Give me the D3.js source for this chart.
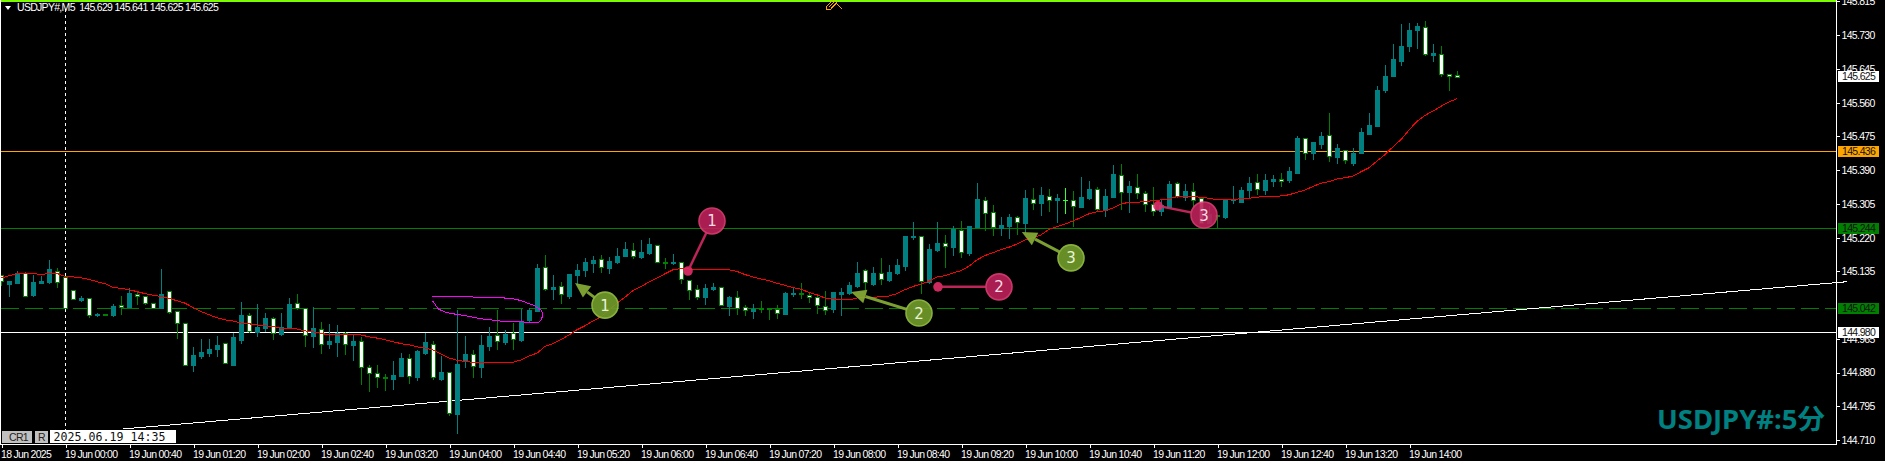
<!DOCTYPE html>
<html>
<head>
<meta charset="utf-8">
<script src="https://cdn.jsdelivr.net/npm/d3@7/dist/d3.min.js"></script>
<style>
html,body{margin:0;padding:0;background:#000;overflow:hidden}
svg{display:block}
.ui{font-family:"Liberation Sans",sans-serif;font-size:10.5px;letter-spacing:-.7px;fill:#fff;stroke:none}
</style>
</head>
<body>
<svg id="c" width="1885" height="461"></svg>
<script>
const opens = [145.125,145.104,145.106,145.131,145.076,145.106,145.109,145.135,145.122,145.088,145.064,145.067,145.024,145.027,145.025,145.050,145.046,145.079,145.073,145.055,145.042,145.085,145.035,145.005,144.898,144.922,144.930,144.940,144.954,144.900,144.963,145.025,144.983,144.993,145.017,144.978,144.995,145.055,145.042,144.973,
144.989,144.953,144.958,144.980,144.950,144.959,144.894,144.879,144.869,144.864,144.872,144.916,144.869,144.930,144.953,144.864,144.881,144.776,144.910,144.926,144.895,144.947,144.974,144.958,144.979,144.963,145.013,145.036,145.146,145.091,145.098,145.073,145.126,145.139,145.157,145.166,145.144,145.159,145.174,145.189,
145.172,145.182,145.201,145.158,145.157,145.158,145.113,145.090,145.071,145.091,145.095,145.048,145.070,145.045,145.036,145.042,145.042,145.040,145.028,145.079,145.080,145.075,145.070,145.047,145.041,145.079,145.081,145.099,145.138,145.104,145.130,145.114,145.131,145.149,145.222,145.224,145.109,145.189,145.206,145.197,
145.239,145.181,145.247,145.316,145.284,145.244,145.249,145.271,145.257,145.318,145.307,145.326,145.315,145.316,145.315,145.297,145.320,145.342,145.290,145.322,145.379,145.335,145.347,145.332,145.306,145.287,145.297,145.357,145.323,145.337,145.319,145.256,145.277,145.272,145.315,145.311,145.340,145.359,145.340,145.363,
145.368,145.364,145.384,145.471,145.432,145.457,145.479,145.424,145.441,145.409,145.432,145.480,145.502,145.593,145.626,145.666,145.702,145.742,145.751,145.679,145.683,145.633,145.629];
const highs = [145.126,145.111,145.136,145.131,145.125,145.124,145.164,145.144,145.122,145.088,145.073,145.067,145.031,145.027,145.053,145.073,145.093,145.084,145.074,145.055,145.142,145.085,145.035,145.005,144.945,144.965,144.965,144.973,144.954,144.981,145.058,145.030,145.053,145.031,145.019,145.031,145.068,145.079,145.042,145.045,
145.008,145.003,145.000,144.983,144.975,144.970,144.900,144.900,144.877,144.910,144.929,144.927,144.937,144.980,144.960,144.922,144.881,145.038,144.973,144.937,144.975,144.995,145.038,144.988,145.005,145.041,145.043,145.154,145.177,145.126,145.109,145.129,145.154,145.169,145.174,145.177,145.172,145.194,145.210,145.207,
145.215,145.220,145.201,145.169,145.179,145.158,145.113,145.101,145.104,145.106,145.095,145.073,145.086,145.051,145.053,145.061,145.042,145.051,145.084,145.094,145.106,145.084,145.076,145.086,145.084,145.094,145.109,145.159,145.142,145.147,145.169,145.152,145.167,145.225,145.260,145.224,145.205,145.260,145.227,145.250,
145.262,145.249,145.358,145.322,145.302,145.271,145.280,145.274,145.340,145.345,145.348,145.343,145.330,145.345,145.337,145.373,145.363,145.348,145.343,145.403,145.406,145.363,145.380,145.337,145.348,145.315,145.363,145.360,145.355,145.358,145.323,145.300,145.277,145.315,145.350,145.348,145.373,145.380,145.380,145.378,
145.382,145.397,145.475,145.471,145.460,145.487,145.535,145.457,145.441,145.445,145.497,145.533,145.603,145.654,145.709,145.757,145.760,145.760,145.767,145.707,145.702,145.633,145.641];
const lows = [145.100,145.073,145.105,145.074,145.073,145.105,145.107,145.096,145.042,145.065,145.061,145.019,145.023,145.026,145.023,145.028,145.046,145.053,145.052,145.042,145.042,145.029,144.968,144.898,144.884,144.917,144.922,144.922,144.905,144.898,144.955,144.983,144.973,144.985,144.965,144.974,144.993,145.041,144.947,144.945,
144.930,144.942,144.922,144.927,144.912,144.852,144.834,144.844,144.837,144.839,144.872,144.854,144.862,144.927,144.864,144.862,144.774,144.728,144.895,144.869,144.869,144.937,144.940,144.953,144.940,144.960,145.008,145.036,145.087,145.066,145.056,145.068,145.104,145.124,145.134,145.134,145.131,145.157,145.174,145.169,
145.169,145.179,145.158,145.144,145.154,145.106,145.066,145.066,145.053,145.089,145.050,145.026,145.028,145.026,145.018,145.033,145.016,145.018,145.028,145.073,145.068,145.058,145.031,145.028,145.033,145.026,145.079,145.096,145.091,145.101,145.104,145.111,145.129,145.139,145.217,145.081,145.106,145.187,145.147,145.177,
145.171,145.176,145.247,145.239,145.227,145.227,145.219,145.229,145.234,145.292,145.277,145.287,145.259,145.282,145.249,145.297,145.317,145.290,145.274,145.322,145.292,145.285,145.320,145.287,145.277,145.277,145.297,145.323,145.315,145.300,145.258,145.256,145.244,145.269,145.307,145.310,145.319,145.330,145.330,145.350,
145.351,145.361,145.384,145.419,145.419,145.447,145.414,145.407,145.409,145.404,145.432,145.480,145.502,145.588,145.626,145.656,145.691,145.699,145.679,145.666,145.626,145.593,145.625];
const closes = [145.111,145.111,145.131,145.074,145.109,145.111,145.142,145.108,145.042,145.065,145.069,145.024,145.028,145.026,145.048,145.045,145.081,145.073,145.055,145.042,145.079,145.032,145.005,144.900,144.925,144.932,144.940,144.950,144.905,144.970,145.026,144.984,144.995,145.018,144.979,144.995,145.053,145.042,144.974,144.993,
144.952,144.960,144.980,144.952,144.960,144.894,144.879,144.869,144.867,144.874,144.917,144.871,144.935,144.958,144.869,144.882,144.778,144.902,144.927,144.896,144.950,144.973,144.959,144.978,144.964,145.010,145.038,145.144,145.090,145.096,145.077,145.129,145.139,145.159,145.164,145.145,145.162,145.174,145.192,145.173,
145.184,145.205,145.158,145.157,145.158,145.115,145.088,145.070,145.094,145.096,145.050,145.071,145.043,145.037,145.041,145.041,145.041,145.030,145.081,145.081,145.078,145.070,145.050,145.037,145.084,145.084,145.101,145.131,145.108,145.131,145.115,145.134,145.152,145.225,145.225,145.112,145.192,145.207,145.198,145.242,
145.185,145.249,145.317,145.283,145.246,145.252,145.272,145.259,145.320,145.308,145.327,145.316,145.320,145.316,145.299,145.322,145.343,145.293,145.325,145.380,145.336,145.350,145.332,145.306,145.288,145.302,145.355,145.326,145.337,145.316,145.258,145.280,145.274,145.315,145.316,145.340,145.358,145.343,145.365,145.368,
145.363,145.387,145.472,145.434,145.460,145.477,145.426,145.445,145.415,145.432,145.485,145.505,145.593,145.628,145.669,145.702,145.744,145.752,145.682,145.684,145.632,145.627,145.625];
const movingAverage = [145.118,145.124,145.129,145.131,145.130,145.127,145.130,145.130,145.122,145.121,145.119,145.115,145.109,145.104,145.095,145.092,145.089,145.084,145.079,145.075,145.072,145.067,145.061,145.055,145.044,145.034,145.026,145.018,145.013,145.010,145.005,145.003,145.000,144.998,144.996,144.992,144.991,144.990,144.985,144.983,
144.979,144.975,144.975,144.977,144.977,144.975,144.970,144.967,144.963,144.958,144.953,144.950,144.945,144.942,144.937,144.927,144.917,144.911,144.908,144.906,144.905,144.905,144.905,144.905,144.906,144.912,144.922,144.929,144.946,144.953,144.963,144.975,144.988,144.998,145.010,145.021,145.038,145.055,145.070,145.087,
145.097,145.108,145.118,145.129,145.139,145.142,145.141,145.141,145.141,145.141,145.141,145.139,145.135,145.127,145.121,145.116,145.112,145.105,145.100,145.094,145.090,145.082,145.076,145.068,145.066,145.063,145.063,145.068,145.068,145.070,145.071,145.073,145.079,145.089,145.097,145.103,145.110,145.121,145.124,145.131,
145.137,145.148,145.164,145.175,145.182,145.190,145.196,145.204,145.214,145.220,145.227,145.241,145.248,145.254,145.262,145.271,145.280,145.285,145.288,145.295,145.305,145.309,145.309,145.311,145.313,145.315,145.318,145.323,145.324,145.323,145.322,145.319,145.316,145.316,145.316,145.318,145.319,145.322,145.324,145.324,
145.325,145.328,145.334,145.340,145.349,145.357,145.361,145.368,145.371,145.375,145.386,145.396,145.413,145.429,145.449,145.467,145.491,145.513,145.528,145.539,145.551,145.562,145.570];
const priceTicks = [145.815,145.730,145.645,145.560,145.475,145.390,145.305,145.220,145.135,144.965,144.880,144.795,144.710];
const timeLabels = ["18 Jun 2025","19 Jun 00:00","19 Jun 00:40","19 Jun 01:20","19 Jun 02:00","19 Jun 02:40","19 Jun 03:20","19 Jun 04:00","19 Jun 04:40","19 Jun 05:20","19 Jun 06:00","19 Jun 06:40","19 Jun 07:20","19 Jun 08:00","19 Jun 08:40","19 Jun 09:20","19 Jun 10:00","19 Jun 10:40","19 Jun 11:20","19 Jun 12:00","19 Jun 12:40","19 Jun 13:20","19 Jun 14:00"];
const levelPrices = [145.436,145.244,145.042,144.980];
const levelColors = ["#ffa500","#008000","#008000","#ffffff"];
const levelDashes = [null,null,"18 6",null];
const topLevel = 145.816;
const quoteLabel = 145.625;
const trendBars = [15.25,230.75];
const trendPrices = [144.738,145.109];
const curveBars = [53.92,61.96,63.83,64.88,66.54,67.58,67.71,67.58,67.17,62.38,59.88,58.42,57.17,55.71,54.67,54.33,53.92];
const curvePrices = [145.073,145.069,145.067,145.062,145.050,145.037,145.026,145.015,145.006,145.010,145.016,145.022,145.026,145.031,145.040,145.050,145.061];
const noteLabels = ["1","2","3"];
const greenBars = [75.5,114.75,133.75], greenPrices = [145.050,145.030,145.169];
const greenTipBars = [71.75,106.25,127.6], greenTipPrices = [145.106,145.083,145.234];
const crimsonBars = [88.875,124.75,150.375], crimsonPrices = [145.262,145.096,145.277];
const crimsonDotBars = [85.875,117.125,144.625], crimsonDotPrices = [145.136,145.096,145.300];

const svg = d3.select("#c");
const x = d3.scaleLinear().domain([0,1]).range([1,9]);
const y = d3.scaleLinear().domain([145.73,144.71]).range([35.2,440.1]);
const plotRight = 1836, plotBottom = 444;
const TEAL="#008080", GREEN="#008000";
const bars = opens.map((o,i)=>({i,o,h:highs[i],l:lows[i],c:closes[i]}));

// levels and trend line sit behind the candles
const back = svg.append("g").attr("shape-rendering","crispEdges");
back.append("line").attr("x1",0).attr("x2",plotRight).attr("y1",y(topLevel)).attr("y2",y(topLevel)).attr("stroke","#7cfc00").attr("stroke-width",2);
levelPrices.forEach((p,k)=>{
  const yy=Math.floor(y(p))+.5;
  back.append("line").attr("x1",1).attr("x2",plotRight).attr("y1",yy).attr("y2",yy)
    .attr("stroke",levelColors[k]).attr("stroke-dasharray",levelDashes[k]);
});
back.append("path").attr("fill","none").attr("stroke","#fff")
  .attr("d",d3.line().x(d=>x(d[0])).y(d=>y(d[1]))(trendBars.map((b,k)=>[b,trendPrices[k]])));
back.append("line").attr("x1",x(8)+.5).attr("x2",x(8)+.5).attr("y1",9).attr("y2",431)
  .attr("stroke","#fff").attr("stroke-dasharray","3 3");

// candles
const g = svg.append("g").attr("shape-rendering","crispEdges");
const col = d=>d.o===d.c?"#33ff33":(d.c>d.o?TEAL:GREEN);
g.selectAll(".wick").data(bars).join("line").attr("class","wick")
  .attr("x1",d=>x(d.i)+.5).attr("x2",d=>x(d.i)+.5)
  .attr("y1",d=>Math.round(y(d.h))).attr("y2",d=>Math.round(y(d.l))+1)
  .attr("stroke",col);
g.selectAll(".body").data(bars).join("rect").attr("class","body")
  .each(function(d){
    const t=Math.round(y(Math.max(d.o,d.c))), b=Math.round(y(Math.min(d.o,d.c)));
    const s=d3.select(this);
    if(d.o===d.c){
      s.attr("x",x(d.i)-2).attr("y",t).attr("width",5).attr("height",1).attr("fill",col(d));
    }else if(d.c>d.o){
      s.attr("x",x(d.i)-2).attr("y",t).attr("width",5).attr("height",Math.max(1,b-t+1)).attr("fill",TEAL);
    }else{
      s.attr("x",x(d.i)-1.5).attr("y",t+.5).attr("width",4).attr("height",Math.max(1,b-t)).attr("fill","#fff").attr("stroke",GREEN);
    }
  });

// moving average and freehand curve
svg.append("path").attr("fill","none").attr("stroke","#ff0000").attr("shape-rendering","crispEdges").attr("stroke-width",1)
  .attr("d",d3.line().x((d,i)=>x(i)).y(d=>y(d))(movingAverage));
svg.append("path").attr("fill","none").attr("stroke","#ff00ff").attr("shape-rendering","crispEdges")
  .attr("d",d3.line().x(d=>x(d[0])).y(d=>y(d[1]))(curveBars.map((b,k)=>[b,curvePrices[k]])));

// numbered notes
const notes = svg.append("g");
noteLabels.forEach((lab,k)=>{
  const cx=x(greenBars[k]), cy=y(greenPrices[k]), tx=x(greenTipBars[k]), ty=y(greenTipPrices[k]);
  const a=Math.atan2(cy-ty,cx-tx), ux=Math.cos(a), uy=Math.sin(a), bx=tx+ux*15, by=ty+uy*15;
  const n=notes.append("g").attr("opacity",.92);
  n.append("line").attr("x1",bx).attr("y1",by).attr("x2",cx).attr("y2",cy).attr("stroke","#86ad36").attr("stroke-width",3);
  n.append("polygon").attr("fill","#86ad36")
    .attr("points",[[tx,ty],[bx-uy*7,by+ux*7],[bx+uy*7,by-ux*7]].join(" "));
  n.append("circle").attr("cx",cx).attr("cy",cy).attr("r",13).attr("fill","#70992b").attr("stroke","#94bf42").attr("stroke-width",1.6);
  notes.append("text").attr("x",cx).attr("y",cy+5.5).attr("text-anchor","middle").attr("fill","#e9f2d5")
    .attr("font-family","DejaVu Sans").attr("font-size",15).text(lab);
});
noteLabels.forEach((lab,k)=>{
  const cx=x(crimsonBars[k]), cy=y(crimsonPrices[k]), dx=x(crimsonDotBars[k]), dy=y(crimsonDotPrices[k]);
  const n=notes.append("g").attr("opacity",.9);
  n.append("line").attr("x1",dx).attr("y1",dy).attr("x2",cx).attr("y2",cy).attr("stroke","#d02a62").attr("stroke-width",2.5);
  n.append("circle").attr("cx",dx).attr("cy",dy).attr("r",4.8).attr("fill","#e02f68");
  n.append("circle").attr("cx",cx).attr("cy",cy).attr("r",13).attr("fill","#bd2159").attr("stroke","#e03d74").attr("stroke-width",1.6);
  notes.append("text").attr("x",cx).attr("y",cy+5.5).attr("text-anchor","middle").attr("fill","#f9dbe5")
    .attr("font-family","DejaVu Sans").attr("font-size",15).text(lab);
});

// pencil icon in the top margin
const pencil = svg.append("g").attr("fill","none").attr("stroke","#ffa500").attr("shape-rendering","crispEdges");
pencil.append("path").attr("d","M826.5 9.5 L826.5 6.5 L832.5 0.5 M826.5 9.5 L830.5 9.5 L836.5 3.5 M829 7 L835 1 M831 8 L837 2");
pencil.append("path").attr("d","M836.5 3.5 L842.5 9.5");

// frame
const frame = svg.append("g").attr("shape-rendering","crispEdges").attr("stroke","#fff");
frame.append("line").attr("x1",plotRight+.5).attr("x2",plotRight+.5).attr("y1",0).attr("y2",plotBottom+1);
frame.append("line").attr("x1",0).attr("x2",plotRight+1).attr("y1",plotBottom+.5).attr("y2",plotBottom+.5);
frame.append("line").attr("x1",.5).attr("x2",.5).attr("y1",0).attr("y2",plotBottom+1);

// axes
const ya = svg.append("g").attr("transform",`translate(${plotRight+.5},0)`)
  .call(d3.axisRight(y).tickValues(priceTicks).tickFormat(d3.format(".3f")).tickSize(3).tickPadding(2));
ya.attr("font-size",null).attr("font-family",null);
ya.select(".domain").remove();
ya.selectAll("line").attr("stroke","#fff").attr("shape-rendering","crispEdges");
ya.selectAll("text").attr("class","ui");
const xa = svg.append("g").attr("transform",`translate(0.5,${plotBottom+.5})`)
  .call(d3.axisBottom(x).tickValues(timeLabels.map((_,k)=>k*8)).tickFormat((d,k)=>timeLabels[k]).tickSize(3).tickPadding(3));
xa.attr("font-size",null).attr("font-family",null);
xa.select(".domain").remove();
xa.selectAll("line").attr("stroke","#fff").attr("shape-rendering","crispEdges");
xa.selectAll("text").attr("class","ui").attr("text-anchor","start").attr("dx",-1);

// price tags
const tags = levelPrices.map((p,k)=>({p,fill:levelColors[k],t:d3.format(".3f")(p)})).concat([{p:quoteLabel,fill:"#fff",t:d3.format(".3f")(quoteLabel)}]);
tags.forEach(d=>{
  const top=Math.round(y(d.p)-5.5);
  svg.append("rect").attr("x",1838).attr("y",top).attr("width",41).attr("height",11).attr("fill",d.fill).attr("shape-rendering","crispEdges");
  svg.append("text").attr("class","ui").attr("x",1842).attr("y",top+9).style("fill","#111").text(d.t);
});

// header
svg.append("path").attr("d","M5 6 L11 6 L8 10 Z").attr("fill","#fff");
svg.append("text").attr("class","ui").attr("x",17).attr("y",11).style("white-space","pre")
  .text("USDJPY#,M5  "+[opens[182],highs[182],lows[182],closes[182]].map(d3.format(".3f")).join(" "));

// bottom-left controls
const ctl = svg.append("g").attr("shape-rendering","crispEdges");
ctl.append("rect").attr("x",2).attr("y",431).attr("width",30).attr("height",12).attr("fill","#c0c0c0");
ctl.append("rect").attr("x",35).attr("y",431).attr("width",13).attr("height",12).attr("fill","#c0c0c0");
ctl.append("rect").attr("x",50).attr("y",430).attr("width",126).attr("height",13).attr("fill","#fff");
svg.append("text").attr("class","ui").attr("x",9).attr("y",441).style("fill","#222").text("CR1");
svg.append("text").attr("class","ui").attr("x",38).attr("y",441).style("fill","#222").text("R");
svg.append("text").attr("x",53.5).attr("y",441).attr("font-family","DejaVu Sans Mono").attr("font-size",12)
  .attr("textLength",112).attr("lengthAdjust","spacingAndGlyphs").attr("fill","#111").text("2025.06.19 14:35");

// watermark
svg.append("text").attr("x",1657).attr("y",429).attr("fill",TEAL)
  .attr("font-family","'Noto Sans','Noto Sans CJK JP',sans-serif").attr("font-weight","bold").attr("font-size",27)
  .attr("textLength",168).attr("lengthAdjust","spacingAndGlyphs").text("USDJPY#:5分");
</script>
</body>
</html>
